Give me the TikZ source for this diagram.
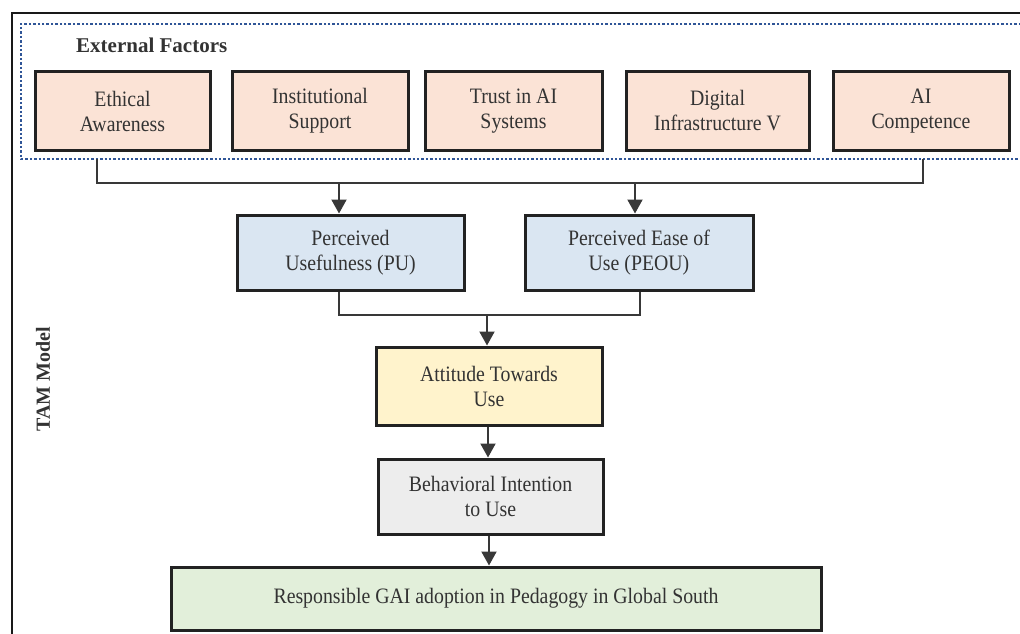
\documentclass[tikz,border=0pt]{standalone}
\usepackage{fontspec}
\setmainfont{Liberation Serif}
\newfontfamily\boxfont{Liberation Serif}[FakeStretch=0.9]
\usetikzlibrary{arrows.meta}
\definecolor{txt}{HTML}{333333}
\definecolor{brd}{HTML}{222222}
\definecolor{extf}{HTML}{FBE3D6}
\definecolor{bluf}{HTML}{DAE6F2}
\definecolor{yelf}{HTML}{FFF3CC}
\definecolor{gryf}{HTML}{EDEDED}
\definecolor{grnf}{HTML}{E2EFDA}
\definecolor{dotc}{HTML}{2F5597}
\tikzset{
  box/.style={draw=brd, line width=3pt, text=txt, align=center,
    font=\boxfont\fontsize{22}{25}\selectfont, inner sep=0pt},
  extbox/.style={box, fill=extf, minimum height=78pt},
  conn/.style={draw=brd!90, line width=2pt},
  arr/.style={conn, -{Triangle[length=14pt,width=15pt]}},
}
\begin{document}
\begin{tikzpicture}[x=1pt,y=-1pt]
\useasboundingbox (0,0) rectangle (1020,634);
\fill[white] (0,0) rectangle (1020,634);
% outer frame
\draw[line width=2.2pt, black!90] (12,640) -- (12,13) -- (1030,13);
% dotted external factors frame
\draw[dotc, line width=2.4pt, dash pattern=on 2.4pt off 2pt] (1030,24) -- (21,24) -- (21,159) -- (1030,159);
\coordinate (dl) at (97,159);
\coordinate (dr) at (923,159);
\node[font=\bfseries\fontsize{21}{24}\selectfont, text=txt, anchor=west, inner sep=0pt] (eft) at (76,45) {External Factors};
\node[font=\bfseries\fontsize{20}{22}\selectfont, text=txt, rotate=90, inner sep=0pt] (tam) at (43,379) {TAM Model};

\node[extbox, minimum width=175pt] (e1) at (122.5,111) {Ethical\\Awareness};
\node[extbox, minimum width=176pt] (e2) at (320,111) {Institutional\\Support};
\node[extbox, minimum width=177pt] (e3) at (513.5,111) {Trust in AI\\Systems};
\node[extbox, minimum width=183pt] (e4) at (717.5,111) {Digital\\Infrastructure V};
\node[extbox, minimum width=176pt] (e5) at (921,111) {AI\\Competence};

\node[box, fill=bluf, minimum width=227pt, minimum height=75pt] (pu) at (350.5,252.5) {Perceived\\Usefulness (PU)};
\node[box, fill=bluf, minimum width=228pt, minimum height=75pt] (peou) at (639,252.5) {Perceived Ease of\\Use (PEOU)};
\node[box, fill=yelf, minimum width=226pt, minimum height=78pt] (att) at (489,386) {Attitude Towards\\Use};
\node[box, fill=gryf, minimum width=225pt, minimum height=75pt] (bi) at (490.5,496.5) {Behavioral Intention\\to Use};
\node[box, fill=grnf, minimum width=650pt, minimum height=63pt] (res) at (496,598.5) {Responsible GAI adoption in Pedagogy in Global South};

% connectors
\coordinate (h1) at (339,183);
\coordinate (h2) at (635,183);
\draw[conn] (dl) |- (h1) -- (h2) -| (dr);
\draw[arr] (h1) -- (h1 |- pu.north);
\draw[arr] (h2) -- (h2 |- peou.north);
\coordinate (m1) at (339,315);
\coordinate (m2) at (640,315);
\coordinate (mm) at (487,315);
\draw[conn] (m1 |- pu.south) -- (m1) -- (m2) -- (m2 |- peou.south);
\draw[arr] (mm) -- (mm |- att.north);
\draw[arr] (att.south -| 488,0) -- (bi.north -| 488,0);
\draw[arr] (bi.south -| 489,0) -- (res.north -| 489,0);
\end{tikzpicture}
\end{document}
